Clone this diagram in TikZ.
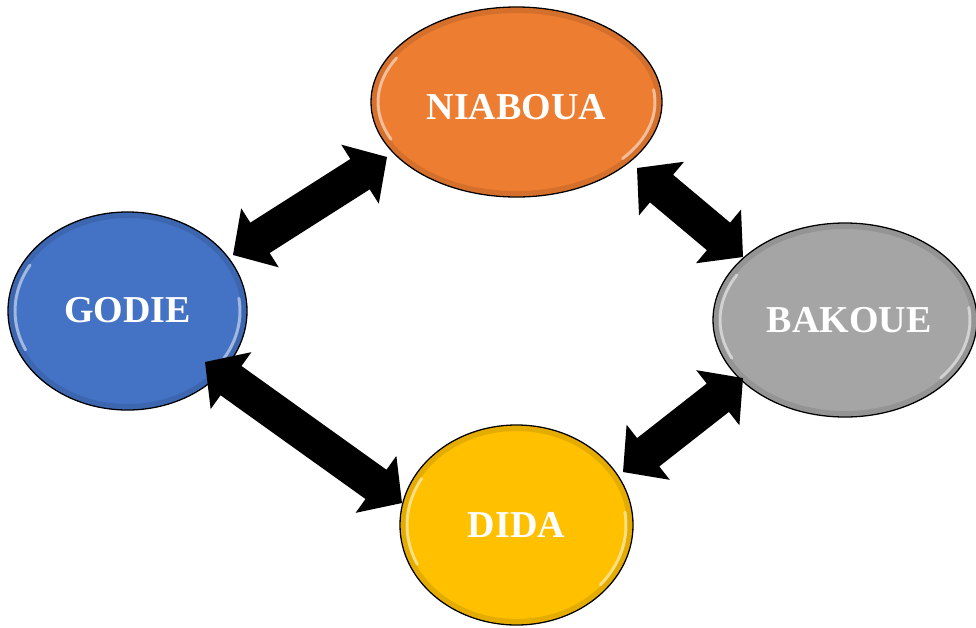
\documentclass[tikz,border=0pt]{standalone}
\usepackage{fontspec}
\setmainfont{Liberation Serif}
\usetikzlibrary{shapes.geometric,calc}
\definecolor{cOrange}{HTML}{ED7D31}
\definecolor{cBlue}{HTML}{4472C4}
\definecolor{cGray}{HTML}{A5A5A5}
\definecolor{cGold}{HTML}{FFC000}
\def\arrHL{32pt}\def\arrHW{35pt}\def\arrSW{18pt}
\newcommand\dblarr[2]{%
  \fill[arrowfill] (#1) -- ($(#1)!\arrHL!(#2)!\arrHW!90:(#2)$) -- ($(#1)!\arrHL!(#2)!\arrSW!90:(#2)$)
    -- ($(#2)!\arrHL!(#1)!\arrSW!-90:(#1)$) -- ($(#2)!\arrHL!(#1)!\arrHW!-90:(#1)$) -- (#2)
    -- ($(#2)!\arrHL!(#1)!\arrHW!90:(#1)$) -- ($(#2)!\arrHL!(#1)!\arrSW!90:(#1)$)
    -- ($(#1)!\arrHL!(#2)!\arrSW!-90:(#2)$) -- ($(#1)!\arrHL!(#2)!\arrHW!-90:(#2)$) -- cycle;}
\newcommand\glossy[3]{%
  \draw[black, opacity=0.10, line width=5pt] (#1.center) ellipse [x radius=#2pt-3.5pt, y radius=#3pt-3.5pt];
  \draw[hlarc] ($(#1.center)+(150:{#2pt-7pt} and {#3pt-7pt})$) arc[start angle=150, end angle=205, x radius=#2pt-7pt, y radius=#3pt-7pt];
  \draw[hlarc] ($(#1.center)+(-40:{#2pt-7pt} and {#3pt-7pt})$) arc[start angle=-40, end angle=8, x radius=#2pt-7pt, y radius=#3pt-7pt];}
\tikzset{
  blob/.style={ellipse, draw=black, line width=1.3pt, inner sep=0pt, outer sep=0pt},
  lbl/.style={text=white, font=\fontsize{38}{40}\selectfont\bfseries, inner sep=0pt},
  hlarc/.style={white, opacity=0.5, line width=3pt, line cap=round},
  arrowfill/.style={fill=black}
}
\begin{document}
\begin{tikzpicture}[x=1pt,y=-1pt]
\useasboundingbox (0,0) rectangle (976,627);
\node[blob, fill=cOrange, minimum width=291pt, minimum height=190pt] (niaboua) at (516.5,102) {};
\node[blob, fill=cBlue, minimum width=239pt, minimum height=198pt] (godie) at (127.5,311) {};
\node[blob, fill=cGray, minimum width=264pt, minimum height=194pt] (bakoue) at (845,320) {};
\node[blob, fill=cGold, minimum width=233pt, minimum height=200pt] (dida) at (516.5,525) {};
\glossy{niaboua}{145.5}{95}
\glossy{godie}{119.5}{99}
\glossy{bakoue}{132}{97}
\glossy{dida}{116.5}{100}
\node[lbl] (niaboua-t) at ($(niaboua)+(0,5.5)$) {NIABOUA};
\node[lbl] (godie-t) at ($(godie)+(0,-1)$) {GODIE};
\node[lbl] (bakoue-t) at ($(bakoue)+(4,0)$) {BAKOUE};
\node[lbl] (dida-t) at (dida) {DIDA};
\coordinate (a1) at ($(godie)+(105.5,-56)$);
\coordinate (b1) at ($(niaboua)+(-129.5,55)$);
\coordinate (a2) at ($(niaboua)+(120.5,66)$);
\coordinate (b2) at ($(bakoue)+(-102,-63)$);
\coordinate (a3) at ($(godie)+(77.5,51)$);
\coordinate (b3) at ($(dida)+(-114.5,-22)$);
\coordinate (a4) at ($(bakoue)+(-102,58)$);
\coordinate (b4) at ($(dida)+(106.5,-53)$);
\dblarr{a1}{b1}
\dblarr{a2}{b2}
\dblarr{a3}{b3}
\dblarr{a4}{b4}
\end{tikzpicture}
\end{document}
